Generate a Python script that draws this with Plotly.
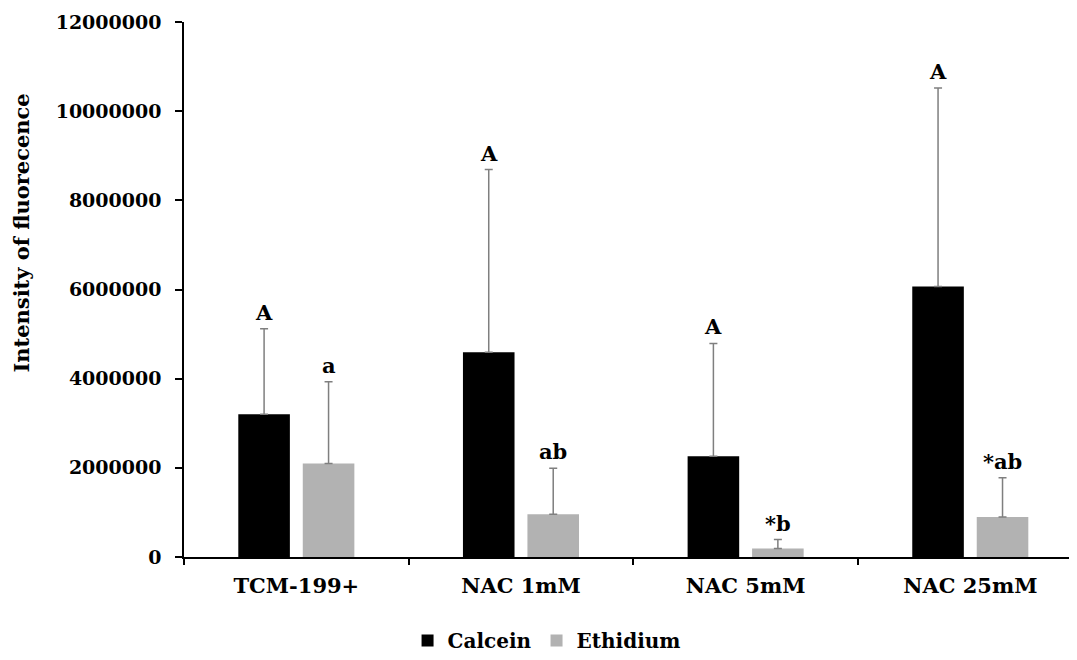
import plotly.graph_objects as go

categories = ["TCM-199+", "NAC 1mM", "NAC 5mM", "NAC 25mM"]
calcein_mean = [3200000, 4590000, 2260000, 6070000]
calcein_err = [1920000, 4100000, 2530000, 4450000]
ethidium_mean = [2100000, 960000, 190000, 900000]
ethidium_err = [1830000, 1030000, 200000, 880000]
calcein_labels = ["A", "A", "A", "A"]
ethidium_labels = ["a", "ab", "*b", "*ab"]
y_ticks = [0, 2000000, 4000000, 6000000, 8000000, 10000000, 12000000]

FONT = "DejaVu Serif"
BARGAP = 0.426
BARGROUPGAP = 0.2
slot = (1 - BARGAP) / 2

err_style = dict(type="data", symmetric=False, color="#7f7f7f", thickness=1.5, width=4)

fig = go.Figure()
fig.add_trace(go.Bar(
    name="Calcein", x=categories, y=calcein_mean,
    marker=dict(color="#000000", line=dict(width=0)),
    error_y=dict(array=calcein_err, arrayminus=[0] * len(categories), **err_style),
))
fig.add_trace(go.Bar(
    name="Ethidium", x=categories, y=ethidium_mean,
    marker=dict(color="#b2b2b2", line=dict(width=0)),
    error_y=dict(array=ethidium_err, arrayminus=[0] * len(categories), **err_style),
))

annotations = []
for i in range(len(categories)):
    annotations.append(dict(
        x=i - slot / 2, y=calcein_mean[i] + calcein_err[i], xref="x", yref="y",
        text="<b>%s</b>" % calcein_labels[i], showarrow=False,
        yanchor="bottom", xanchor="center", yshift=2,
        font=dict(family=FONT, size=21, color="#000000"),
    ))
    annotations.append(dict(
        x=i + slot / 2, y=ethidium_mean[i] + ethidium_err[i], xref="x", yref="y",
        text="<b>%s</b>" % ethidium_labels[i], showarrow=False,
        yanchor="bottom", xanchor="center", yshift=2,
        font=dict(family=FONT, size=21, color="#000000"),
    ))

annotations.append(dict(
    x=-0.1814, y=0.6045, xref="paper", yref="paper",
    text="<b>Intensity of fluorecence</b>", textangle=-90, showarrow=False,
    xanchor="center", yanchor="middle",
    font=dict(family=FONT, size=21, color="#000000"),
))

fig.update_layout(
    width=1069, height=652,
    margin=dict(l=176, r=0, t=14, b=102),
    paper_bgcolor="white", plot_bgcolor="white",
    barmode="group", bargap=BARGAP, bargroupgap=BARGROUPGAP,
    font=dict(family=FONT, size=19, color="#000000"),
    showlegend=True,
    legend=dict(
        orientation="h", x=0.406, y=-0.155, xanchor="center", yanchor="middle",
        font=dict(family=FONT, size=20, color="#000000", weight="bold"),
        itemwidth=30, tracegroupgap=0,
    ),
    annotations=annotations,
)
fig.update_xaxes(
    type="category", range=[-0.5, 3.475], automargin=False,
    showline=True, linecolor="#000000", linewidth=1.5,
    ticks="outside", tickson="boundaries", ticklen=6, tickwidth=1.5, tickcolor="#000000",
    showgrid=False, zeroline=False,
    tickfont=dict(family=FONT, size=21, color="#000000", weight="bold"),
    ticklabelstandoff=9,
)
fig.update_yaxes(
    range=[0, 12000000], tickvals=y_ticks, tickformat="d", automargin=False,
    showline=True, linecolor="#000000", linewidth=1.5,
    ticks="outside", ticklen=7, tickwidth=1.5, tickcolor="#000000",
    showgrid=False, zeroline=False,
    tickfont=dict(family=FONT, size=19, color="#000000", weight="bold"),
    ticklabelstandoff=10,
)

fig.write_html("out.html")
